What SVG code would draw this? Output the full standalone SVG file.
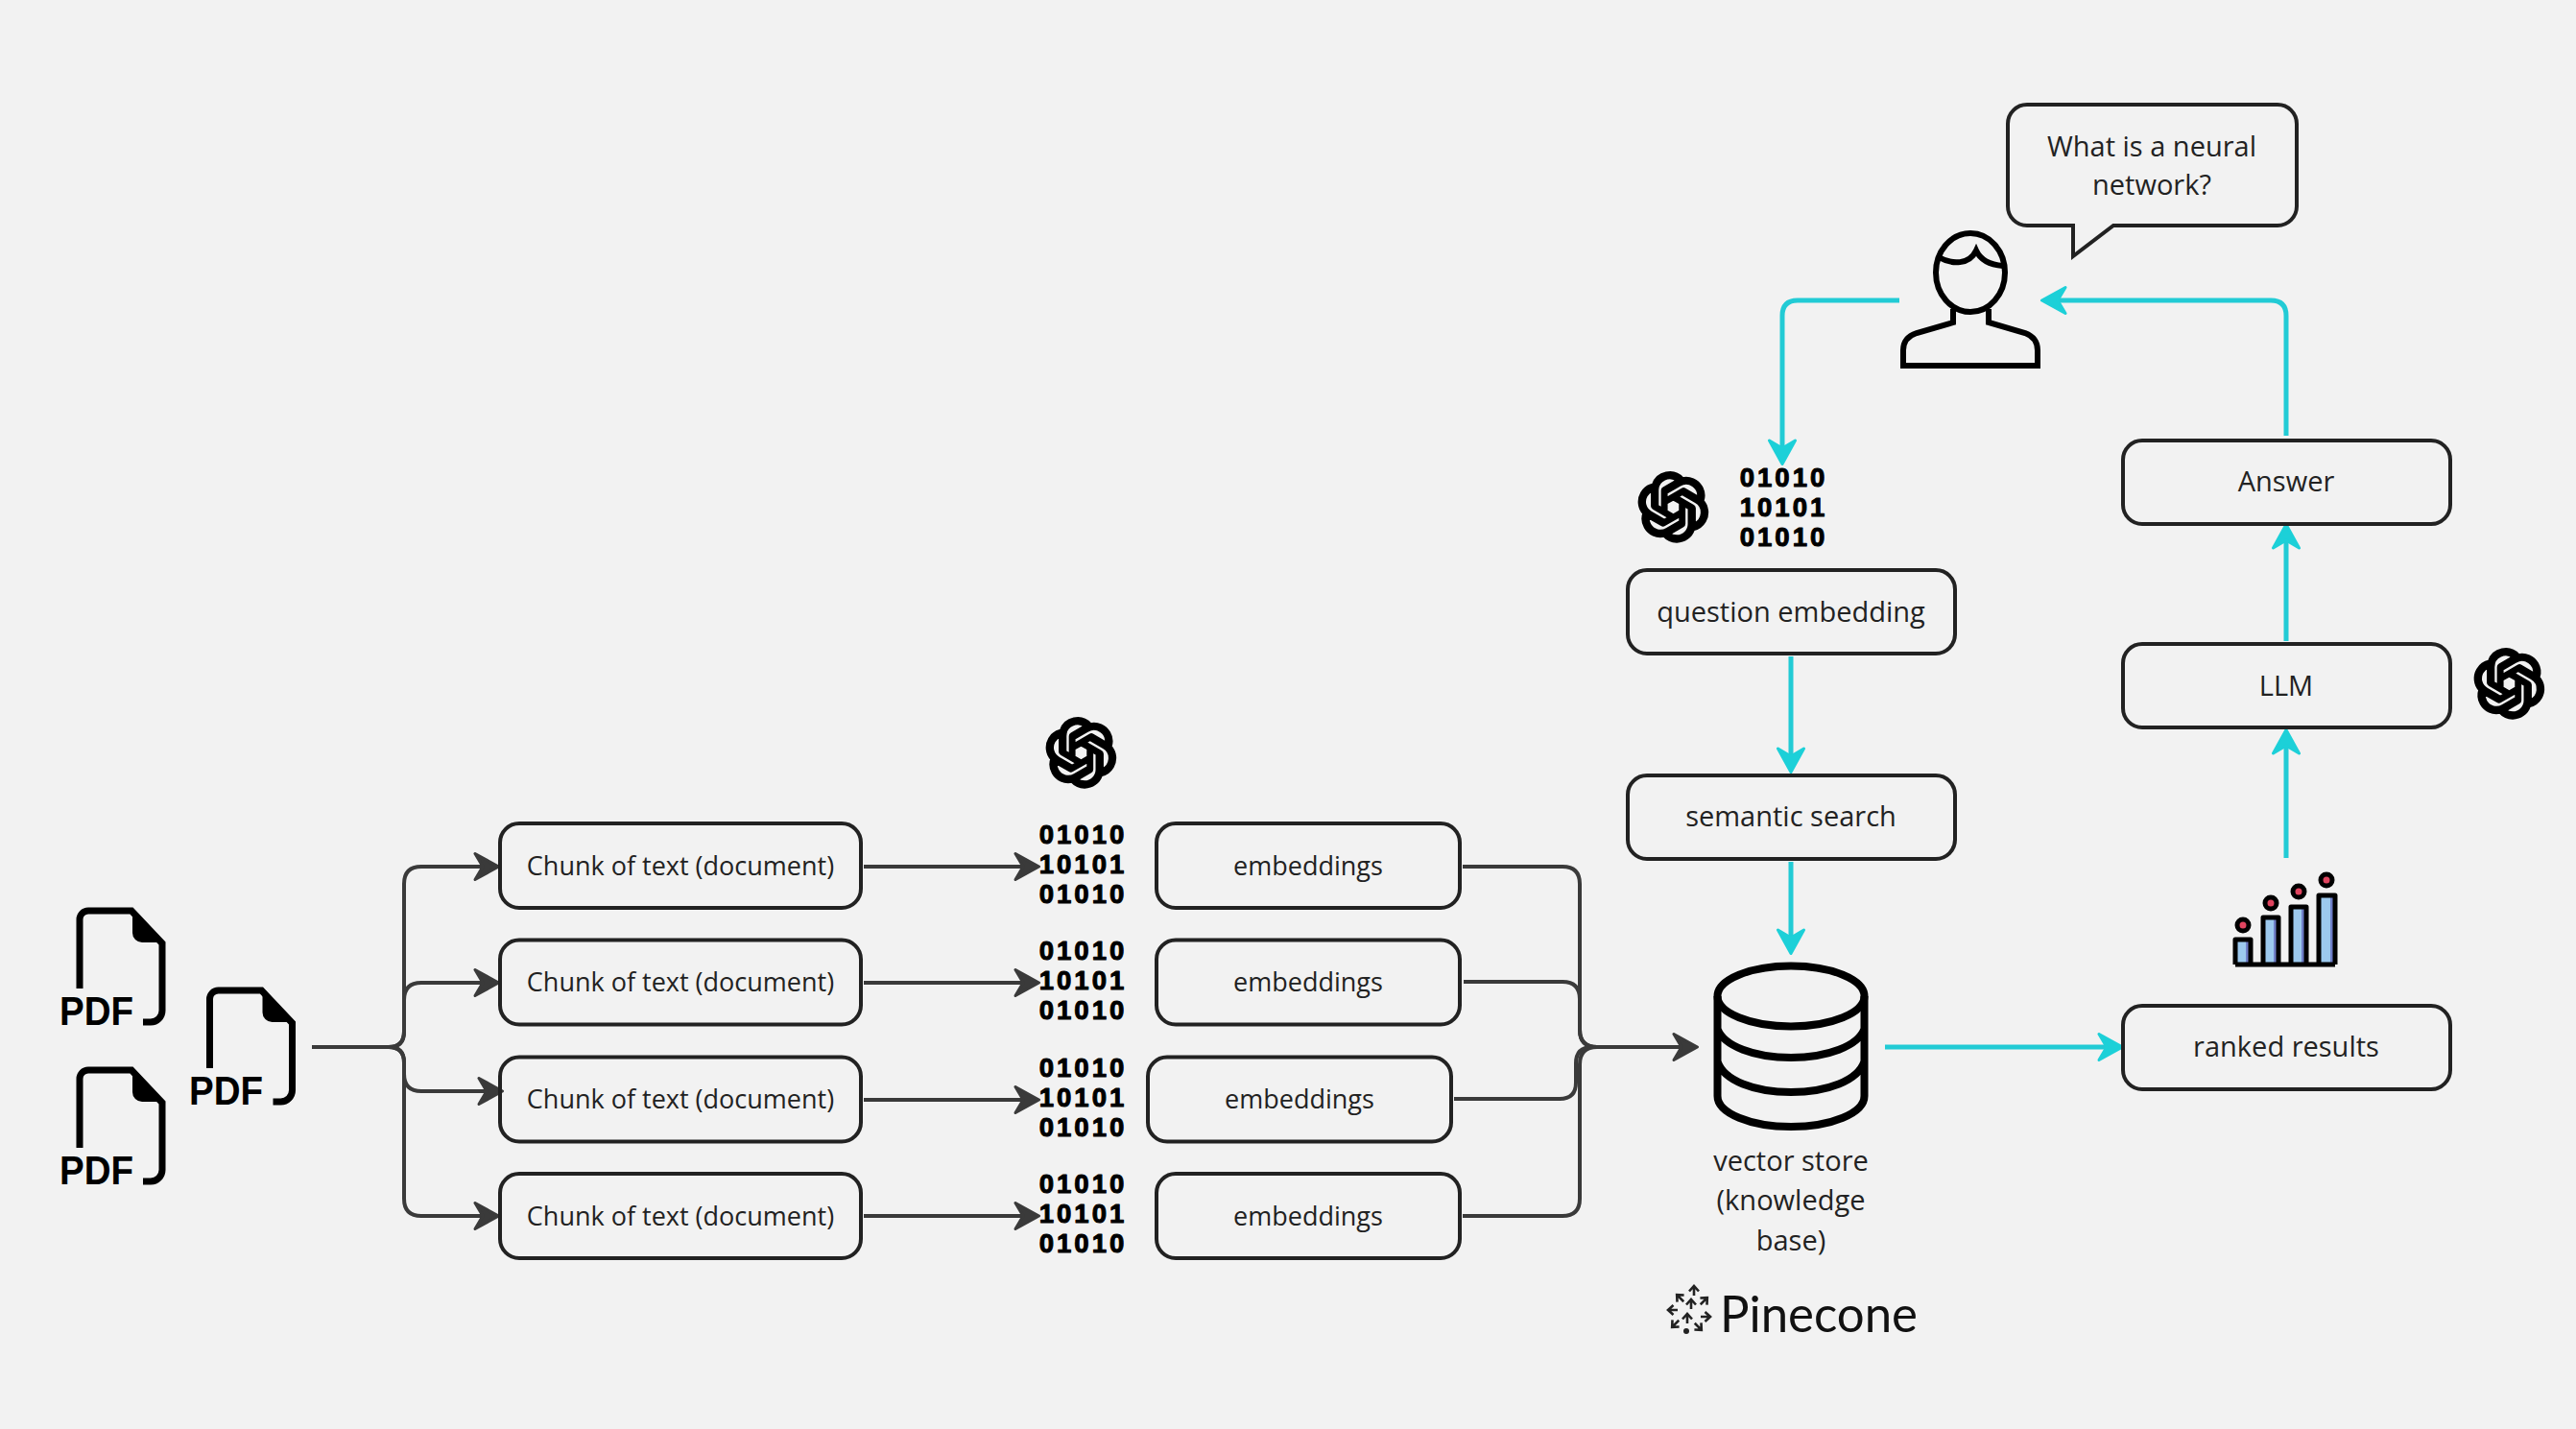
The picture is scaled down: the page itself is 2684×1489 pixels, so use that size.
<svg xmlns="http://www.w3.org/2000/svg" xmlns:xlink="http://www.w3.org/1999/xlink" width="2684" height="1489" viewBox="0 0 2684 1489">
<style>
.box{fill:none;stroke:#222;stroke-width:4}
.t{font-family:"Open Sans","Noto Sans",sans-serif;font-size:29px;fill:#222;text-anchor:middle}
.s{font-size:27px}
.pdf{font-family:"Liberation Sans",sans-serif;font-weight:700;font-size:43px;fill:#000}
.bin{font-family:"Liberation Sans",sans-serif;font-weight:700;font-size:27.500px;letter-spacing:3px;fill:#000;stroke:#000;stroke-width:1;stroke-linejoin:round;text-anchor:middle}
.d{fill:none;stroke:#3a3a3a;stroke-width:4}
.c{fill:none;stroke:#22cbd5;stroke-width:5}
.i{fill:none;stroke:#000;stroke-width:7}
</style>
<defs>
<marker id="ad" markerUnits="userSpaceOnUse" markerWidth="40" markerHeight="40" viewBox="0 0 40 40" refX="14" refY="15" orient="auto"><path d="M2 1.500L26.500 15L2 28.500L10 15Z" fill="#3a3a3a" stroke="#3a3a3a" stroke-width="3" stroke-linejoin="round"/></marker>
<marker id="ac" markerUnits="userSpaceOnUse" markerWidth="40" markerHeight="40" viewBox="0 0 40 40" refX="14" refY="15" orient="auto"><path d="M2 1.500L26.500 15L2 28.500L10 15Z" fill="#1cd0d8" stroke="#1cd0d8" stroke-width="3" stroke-linejoin="round"/></marker>
<g id="oai"><path transform="translate(2 2) scale(2.950)" fill="#000" stroke="#000" stroke-width="1.250" stroke-linejoin="round" d="M22.2819 9.8211a5.9847 5.9847 0 0 0-.5157-4.9108 6.0462 6.0462 0 0 0-6.5098-2.9A6.0651 6.0651 0 0 0 4.9807 4.1818a5.9847 5.9847 0 0 0-3.9977 2.9 6.0462 6.0462 0 0 0 .7427 7.0966 5.98 5.98 0 0 0 .511 4.9107 6.051 6.051 0 0 0 6.5146 2.9001A5.9847 5.9847 0 0 0 13.2599 24a6.0557 6.0557 0 0 0 5.7718-4.2058 5.9894 5.9894 0 0 0 3.9977-2.9001 6.0557 6.0557 0 0 0-.7475-7.0729zm-9.022 12.6081a4.4755 4.4755 0 0 1-2.8764-1.0408l.1419-.0804 4.7783-2.7582a.7948.7948 0 0 0 .3927-.6813v-6.7369l2.02 1.1686a.071.071 0 0 1 .038.052v5.5826a4.504 4.504 0 0 1-4.4945 4.4944zm-9.6607-4.1254a4.4708 4.4708 0 0 1-.5346-3.0137l.142.0852 4.783 2.7582a.7712.7712 0 0 0 .7806 0l5.8428-3.3685v2.3324a.0804.0804 0 0 1-.0332.0615L9.74 19.9502a4.4992 4.4992 0 0 1-6.1408-1.6464zM2.3408 7.8956a4.485 4.485 0 0 1 2.3655-1.9728V11.6a.7664.7664 0 0 0 .3879.6765l5.8144 3.3543-2.0201 1.1685a.0757.0757 0 0 1-.071 0l-4.8303-2.7865A4.504 4.504 0 0 1 2.3408 7.872zm16.5963 3.8558L13.1038 8.364 15.1192 7.2a.0757.0757 0 0 1 .071 0l4.8303 2.7913a4.4944 4.4944 0 0 1-.6765 8.1042v-5.6772a.79.79 0 0 0-.407-.667zm2.0107-3.0231l-.142-.0852-4.7735-2.7818a.7759.7759 0 0 0-.7854 0L9.409 9.2297V6.8974a.0662.0662 0 0 1 .0284-.0615l4.8303-2.7866a4.4992 4.4992 0 0 1 6.6802 4.66zM8.3065 12.863l-2.02-1.1638a.0804.0804 0 0 1-.038-.0567V6.0742a4.4992 4.4992 0 0 1 7.3757-3.4537l-.142.0805L8.704 5.459a.7948.7948 0 0 0-.3927.6813zm1.0976-2.3654l2.602-1.4998 2.6069 1.4998v2.9994l-2.5974 1.4997-2.6067-1.4997Z"/></g>
<g id="doc"><path class="i" d="M83 1030V958a9 9 0 0 1 9-9H137L169 983V1053a12 12 0 0 1-12 12H149" stroke-width="7.5"/><path fill="#000" d="M138 949L170 982H148a10 10 0 0 1-10-10Z"/></g>
<path id="pa" d="M-5 1.500L0-4L5 1.500M0-3V6" fill="none" stroke="#222" stroke-width="2.600"/>
</defs>
<rect width="2684" height="1489" fill="#f2f2f2"/>

<g id="connectors">
<path class="d" d="M325 1091H405Q421 1091 421 1075V921Q421 903 439 903H507" marker-end="url(#ad)"/>
<path class="d" d="M405 1091Q421 1091 421 1075V1042Q421 1024 439 1024H507" marker-end="url(#ad)"/>
<path class="d" d="M405 1091Q421 1091 421 1107V1119Q421 1137 439 1137H511" marker-end="url(#ad)"/>
<path class="d" d="M405 1091Q421 1091 421 1107V1249Q421 1267 439 1267H507" marker-end="url(#ad)"/>
<path class="d" d="M900 903H1070" marker-end="url(#ad)"/>
<path class="d" d="M900 1024H1070" marker-end="url(#ad)"/>
<path class="d" d="M900 1146H1070" marker-end="url(#ad)"/>
<path class="d" d="M900 1267H1070" marker-end="url(#ad)"/>
<path class="d" d="M1524 903H1628Q1646 903 1646 921V1073Q1646 1091 1664 1091H1756" marker-end="url(#ad)"/>
<path class="d" d="M1525 1023H1628Q1646 1023 1646 1041V1073Q1646 1091 1664 1091"/>
<path class="d" d="M1515 1145H1625Q1642 1145 1642 1128V1108Q1642 1091 1659 1091H1670"/>
<path class="d" d="M1524 1267H1628Q1646 1267 1646 1249V1109Q1646 1091 1664 1091"/>
<path class="c" d="M1979 313H1873Q1857 313 1857 329V471" marker-end="url(#ac)"/>
<path class="c" d="M1866 684V792" marker-end="url(#ac)"/>
<path class="c" d="M1866 898V981" marker-end="url(#ac)"/>
<path class="c" d="M1964 1091H2199" marker-end="url(#ac)"/>
<path class="c" d="M2382 894V773" marker-end="url(#ac)"/>
<path class="c" d="M2382 668V559" marker-end="url(#ac)"/>
<path class="c" d="M2382 454V329Q2382 313 2366 313H2140" marker-end="url(#ac)"/>
</g>

<g id="pdf-1"><use xlink:href="#doc" href="#doc"/><text class="pdf" x="62" y="1068" textLength="77" lengthAdjust="spacingAndGlyphs">PDF</text></g>
<g id="pdf-2"><use xlink:href="#doc" href="#doc" y="166"/><text class="pdf" x="62" y="1234" textLength="77" lengthAdjust="spacingAndGlyphs">PDF</text></g>
<g id="pdf-3"><use xlink:href="#doc" href="#doc" x="135.5" y="83"/><text class="pdf" x="197" y="1151" textLength="77" lengthAdjust="spacingAndGlyphs">PDF</text></g>

<g id="chunk-1"><rect class="box" x="521" y="858" width="376" height="88" rx="20"/><text class="t s" x="709" y="912">Chunk of text (document)</text></g>
<g id="chunk-2"><rect class="box" x="521" y="979.500" width="376" height="88" rx="20"/><text class="t s" x="709" y="1033">Chunk of text (document)</text></g>
<g id="chunk-3"><rect class="box" x="521" y="1101.500" width="376" height="88" rx="20"/><text class="t s" x="709" y="1155">Chunk of text (document)</text></g>
<g id="chunk-4"><rect class="box" x="521" y="1223" width="376" height="88" rx="20"/><text class="t s" x="709" y="1277">Chunk of text (document)</text></g>

<g id="openai-docs"><use xlink:href="#oai" href="#oai" x="1089" y="747"/></g>
<g id="binary-1"><text class="bin" x="1128.500" y="879">01010</text><text class="bin" x="1128.500" y="910">10101</text><text class="bin" x="1128.500" y="941">01010</text></g>
<g id="binary-2"><text class="bin" x="1128.500" y="1000">01010</text><text class="bin" x="1128.500" y="1031">10101</text><text class="bin" x="1128.500" y="1062">01010</text></g>
<g id="binary-3"><text class="bin" x="1128.500" y="1122">01010</text><text class="bin" x="1128.500" y="1153">10101</text><text class="bin" x="1128.500" y="1184">01010</text></g>
<g id="binary-4"><text class="bin" x="1128.500" y="1243">01010</text><text class="bin" x="1128.500" y="1274">10101</text><text class="bin" x="1128.500" y="1305">01010</text></g>

<g id="emb-1"><rect class="box" x="1205" y="858" width="316" height="88" rx="20"/><text class="t s" x="1363" y="912">embeddings</text></g>
<g id="emb-2"><rect class="box" x="1205" y="979.500" width="316" height="88" rx="20"/><text class="t s" x="1363" y="1033">embeddings</text></g>
<g id="emb-3"><rect class="box" x="1196" y="1101.500" width="316" height="88" rx="20"/><text class="t s" x="1354" y="1155">embeddings</text></g>
<g id="emb-4"><rect class="box" x="1205" y="1223" width="316" height="88" rx="20"/><text class="t s" x="1363" y="1277">embeddings</text></g>

<g id="vector-store">
<ellipse class="i" cx="1866" cy="1038" rx="76.500" ry="31.500" style="stroke-width:8"/>
<path class="i" style="stroke-width:8" d="M1789.500 1038V1142C1789.500 1160 1824 1174 1866 1174C1908 1174 1942.500 1160 1942.500 1142V1038M1789.500 1072C1796 1090 1828 1102 1866 1102C1904 1102 1936 1090 1942.500 1072M1789.500 1106C1796 1126 1828 1138 1866 1138C1904 1138 1936 1126 1942.500 1106"/>
<text class="t" x="1866" y="1220">vector store</text><text class="t" x="1866" y="1261">(knowledge</text><text class="t" x="1866" y="1303">base)</text>
</g>
<g id="pinecone">
<use xlink:href="#pa" href="#pa" transform="translate(1765 1344)"/>
<use xlink:href="#pa" href="#pa" transform="translate(1750 1352) rotate(-45)"/>
<use xlink:href="#pa" href="#pa" transform="translate(1776 1355) rotate(45)"/>
<use xlink:href="#pa" href="#pa" transform="translate(1762 1358)"/>
<use xlink:href="#pa" href="#pa" transform="translate(1742 1365) rotate(-90)"/>
<use xlink:href="#pa" href="#pa" transform="translate(1778 1372) rotate(90)"/>
<use xlink:href="#pa" href="#pa" transform="translate(1758 1373)"/>
<use xlink:href="#pa" href="#pa" transform="translate(1745 1380) rotate(-135)"/>
<use xlink:href="#pa" href="#pa" transform="translate(1770 1383) rotate(135)"/>
<circle cx="1757" cy="1387" r="3" fill="#222"/>
<text x="1792" y="1388" font-family="Lato,'Open Sans',sans-serif" font-size="52" fill="#111" textLength="206" lengthAdjust="spacingAndGlyphs">Pinecone</text>
</g>

<g id="user">
<ellipse class="i" cx="2053" cy="284" rx="36" ry="41" style="stroke-width:6"/>
<path class="i" style="stroke-width:6" d="M2020 268C2034 276 2052 276 2059 261C2064 272 2074 276 2087 277M2035 322V336L1997 347C1988 350 1983 356 1983 365V381H2123V365C2123 356 2118 350 2110 347L2072 336V322"/>
</g>
<g id="bubble">
<path class="box" d="M2112 109H2373A20 20 0 0 1 2393 129V215A20 20 0 0 1 2373 235H2202L2160 267V235H2112A20 20 0 0 1 2092 215V129A20 20 0 0 1 2112 109Z"/>
<text class="t" x="2242" y="163">What is a neural</text><text class="t" x="2242" y="203">network?</text>
</g>

<g id="openai-question"><use xlink:href="#oai" href="#oai" x="1706" y="491"/></g>
<g id="binary-q"><text class="bin" x="1858.500" y="507">01010</text><text class="bin" x="1858.500" y="538">10101</text><text class="bin" x="1858.500" y="569">01010</text></g>
<g id="question-embedding"><rect class="box" x="1696" y="594" width="341" height="87" rx="20"/><text class="t" x="1866" y="648">question embedding</text></g>
<g id="semantic-search"><rect class="box" x="1696" y="808" width="341" height="87" rx="20"/><text class="t" x="1866" y="861">semantic search</text></g>
<g id="answer"><rect class="box" x="2212" y="459" width="341" height="87" rx="20"/><text class="t" x="2382" y="512">Answer</text></g>
<g id="llm"><rect class="box" x="2212" y="671" width="341" height="87" rx="20"/><text class="t" x="2382" y="725">LLM</text></g>
<g id="openai-llm"><use xlink:href="#oai" href="#oai" x="2577" y="675"/></g>
<g id="ranked-results"><rect class="box" x="2212" y="1048" width="341" height="87" rx="20"/><text class="t" x="2382" y="1101">ranked results</text></g>

<g id="chart">
<g fill="#9cc9ee"><rect x="2329" y="979" width="16" height="26"/><rect x="2358" y="956" width="16" height="49"/><rect x="2387" y="945" width="16" height="60"/><rect x="2416" y="933" width="17" height="72"/></g>
<g fill="#6f7fc8"><rect x="2340" y="979" width="5" height="26"/><rect x="2369" y="956" width="5" height="49"/><rect x="2398" y="945" width="5" height="60"/><rect x="2428" y="933" width="5" height="72"/></g>
<g fill="none" stroke="#000" stroke-width="5" stroke-linejoin="round"><path d="M2329 1005V979H2345V1005M2358 1005V956H2374V1005M2387 1005V945H2403V1005M2416 1005V933H2433V1005M2329 1005H2433"/></g>
<g fill="#e0445f" stroke="#000" stroke-width="5"><circle cx="2337" cy="964" r="6"/><circle cx="2366" cy="941" r="6"/><circle cx="2395" cy="929" r="6"/><circle cx="2424" cy="917" r="6"/></g>
</g>
</svg>
